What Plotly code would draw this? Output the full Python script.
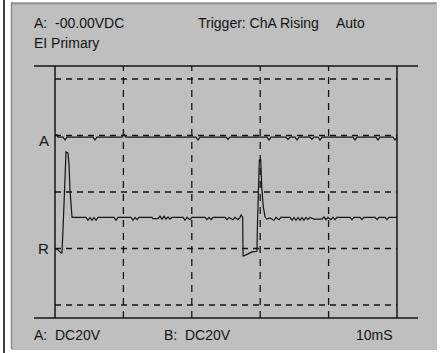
import plotly.graph_objects as go

# Scope trace, channel A (time in ms, level in screen divisions)
a_time = [0.00, 0.29, 0.44, 1.17, 1.46, 1.75, 5.56, 5.85, 6.14, 9.80, 10.09, 10.38,
          20.61, 20.91, 21.20, 25.00, 25.29, 25.58, 30.99, 31.29, 31.58, 33.77, 34.06,
          34.36, 35.09, 35.38, 35.67, 37.28, 37.57, 37.87, 38.45, 38.74, 39.04, 43.57,
          43.86, 44.15, 46.93, 47.22, 47.51, 49.42, 49.71, 50.00]
a_level = [1.01, 1.01, 0.97, 0.97, 0.92, 0.97, 0.97, 0.92, 0.97, 0.97, 1.02, 0.97,
           0.97, 0.92, 0.97, 0.97, 0.93, 0.97, 0.97, 0.92, 0.97, 0.97, 0.93,
           0.97, 0.97, 0.92, 0.97, 0.97, 0.93, 0.97, 0.97, 0.92, 0.97, 0.97,
           0.92, 0.97, 0.97, 0.92, 0.97, 0.97, 0.92, 0.97]

# Scope trace, channel B (EI primary)
b_time = [0.00, 0.29, 0.88, 1.02, 1.17, 1.46, 1.61, 1.90, 2.05, 2.19, 2.34, 2.49,
          4.53, 4.82, 5.12, 5.41, 5.70, 6.00, 6.29, 8.63, 8.92, 9.21, 11.11, 11.40,
          11.70, 11.99, 12.28, 14.18, 14.33, 15.06, 15.35, 15.64, 15.94, 16.23, 16.52,
          16.81, 17.11, 18.71, 19.01, 19.30, 19.74, 20.03, 21.93, 22.22, 22.51, 22.81,
          23.10, 24.85, 25.15, 25.44, 26.02, 26.32, 26.75, 27.05, 27.19, 27.44, 27.49,
          27.63, 28.80, 29.53, 29.58, 29.87, 30.07, 30.22, 30.45, 30.70, 30.95, 31.43,
          32.02, 32.31, 32.75, 33.04, 34.36, 34.65, 34.94, 35.23, 35.53, 35.82, 36.11,
          36.40, 36.70, 36.99, 37.28, 37.87, 39.04, 39.33, 39.62, 39.91, 40.35, 40.64,
          40.94, 41.23, 43.13, 43.42, 43.71, 44.59, 44.88, 45.18, 46.78, 47.08, 47.37,
          48.25, 48.54, 48.83, 50.00]
b_level = [-1.01, -1.01, -1.08, -1.08, -0.67, 0.21, 0.71, 0.69, 0.48, 0.04, -0.32, -0.45,
           -0.45, -0.50, -0.45, -0.50, -0.45, -0.50, -0.45, -0.45, -0.50, -0.45, -0.45, -0.50,
           -0.45, -0.49, -0.45, -0.45, -0.47, -0.47, -0.43, -0.48, -0.43, -0.48, -0.44,
           -0.48, -0.45, -0.45, -0.50, -0.45, -0.49, -0.45, -0.45, -0.49, -0.45, -0.49,
           -0.45, -0.45, -0.49, -0.45, -0.49, -0.45, -0.49, -0.45, -0.40, -0.45, -1.13,
           -1.13, -1.06, -1.05, -0.67, 0.56, 0.58, 0.09, -0.26, -0.44, -0.48, -0.46,
           -0.50, -0.45, -0.49, -0.45, -0.45, -0.50, -0.45, -0.50, -0.45, -0.50, -0.45,
           -0.50, -0.45, -0.49, -0.45, -0.48, -0.48, -0.44, -0.49, -0.45, -0.49, -0.45,
           -0.49, -0.45, -0.45, -0.49, -0.45, -0.45, -0.49, -0.45, -0.45, -0.49, -0.45,
           -0.45, -0.49, -0.45, -0.45]

# Graticule
time_divisions = [10, 20, 30, 40]
time_frame = [0, 50]
level_divisions = [-2, -1, 0, 1, 2]
marker_labels = ["A", "R"]
marker_levels = [0.92, -1.0]

W, H = 440, 353
L, R, T, B = 34, 22, 66, 35
PW, PH = W - L - R, H - T - B
INK = "#141414"
PANEL = "#bfbfbf"
FONT = "Liberation Sans, Arial, sans-serif"


def px(x):
    return (x - L) / PW


def py(y):
    return (H - B - y) / PH


fig = go.Figure()
fig.add_trace(go.Scatter(x=a_time, y=a_level, mode="lines",
                         line=dict(color=INK, width=1.2), hoverinfo="skip"))
fig.add_trace(go.Scatter(x=b_time, y=b_level, mode="lines",
                         line=dict(color=INK, width=1.2), hoverinfo="skip"))

shapes = []
# window panel with a sunken edge
shapes.append(dict(type="rect", xref="paper", yref="paper", layer="below",
                   x0=px(11), x1=px(437), y0=py(350), y1=py(2),
                   fillcolor=PANEL, line=dict(width=0)))
shapes.append(dict(type="line", xref="paper", yref="paper", layer="below",
                   x0=px(11.5), x1=px(11.5), y0=py(349), y1=py(2.5),
                   line=dict(color="#8a8a8a", width=1.5)))
shapes.append(dict(type="line", xref="paper", yref="paper", layer="below",
                   x0=px(11), x1=px(436), y0=py(3.5), y1=py(3.5),
                   line=dict(color="#8a8a8a", width=1.5)))
shapes.append(dict(type="line", xref="paper", yref="paper", layer="below",
                   x0=px(4), x1=px(4), y0=py(0), y1=py(353),
                   line=dict(color="#000000", width=1.5)))
# outer frame of the screen
for yy in (0, 1):
    shapes.append(dict(type="line", xref="paper", yref="paper",
                       x0=0, x1=1, y0=yy, y1=yy,
                       line=dict(color=INK, width=1.6)))
for xx in time_frame:
    shapes.append(dict(type="line", xref="x", yref="paper",
                       x0=xx, x1=xx, y0=0, y1=1,
                       line=dict(color=INK, width=1.5)))
for xx in time_divisions:
    shapes.append(dict(type="line", xref="x", yref="paper",
                       x0=xx, x1=xx, y0=0, y1=1,
                       line=dict(color=INK, width=1.3, dash="7px,6px")))
for yy in level_divisions:
    shapes.append(dict(type="line", xref="x", yref="y",
                       x0=time_frame[0], x1=time_frame[1], y0=yy, y1=yy,
                       line=dict(color=INK, width=1.3, dash="6px,5px")))

annotations = []


def label(text, x, y, size=14, anchor="left"):
    annotations.append(dict(text=text, xref="paper", yref="paper",
                            x=px(x), y=py(y), xanchor=anchor, yanchor="middle",
                            showarrow=False,
                            font=dict(family=FONT, size=size, color=INK)))


label("A:\u00a0 -00.00VDC", 32, 23)
label("Trigger: ChA Rising", 196, 23)
label("Auto", 334, 23)
label("EI Primary", 32, 43)
label("A:\u00a0 DC20V", 32, 335)
label("B:\u00a0 DC20V", 162, 335)
label("10mS", 354, 335)
for txt, lvl in zip(marker_labels, marker_levels):
    annotations.append(dict(text=txt, xref="paper", yref="y", x=px(51), y=lvl,
                            xanchor="right", yanchor="middle", showarrow=False,
                            font=dict(family=FONT, size=15, color=INK)))

x_lo = time_frame[0] - (55 - L) * (time_frame[1] - time_frame[0]) / 342
x_hi = time_frame[1] + (L + PW - 397) * (time_frame[1] - time_frame[0]) / 342
y_half = (PH / 2) / 56.5

fig.update_layout(
    width=W, height=H,
    margin=dict(l=L, r=R, t=T, b=B),
    paper_bgcolor="#ffffff",
    plot_bgcolor="rgba(0,0,0,0)",
    showlegend=False,
    xaxis=dict(range=[x_lo, x_hi], visible=False, fixedrange=True),
    yaxis=dict(range=[-y_half, y_half], visible=False, fixedrange=True),
    shapes=shapes,
    annotations=annotations,
)

fig.write_html("out.html", config={"displayModeBar": False})
